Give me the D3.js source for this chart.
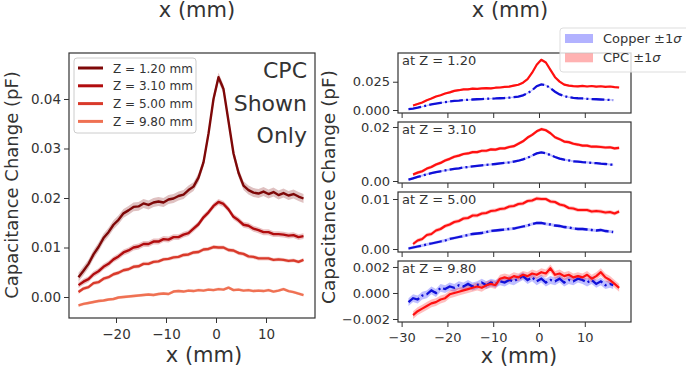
<!DOCTYPE html>
<html>
<head>
<meta charset="utf-8">
<script src="https://cdn.jsdelivr.net/npm/d3@7"></script>
<style>
    body { margin: 0; background: #fff; }
    text { font-family: "DejaVu Sans", sans-serif; fill: #333; }
</style>
</head>
<body>
<div id="chart"></div>
<script>
// positions (mm) of the CPC and copper scans
var xCpc = [-27.5, -26.5, -25.5, -24.5, -23.5, -22.5, -21.5, -20.5, -19.5, -18.5,
    -17.5, -16.5, -15.5, -14.5, -13.5, -12.5, -11.5, -10.5, -9.5, -8.5,
    -7.5, -6.5, -5.5, -4.5, -3.5, -2.5, -1.5, -0.5, 0.5, 1.5,
    2.5, 3.5, 4.5, 5.5, 6.5, 7.5, 8.5, 9.5, 10.5, 11.5,
    12.5, 13.5, 14.5, 15.5, 16.5, 17.5];
var xCopper = [-28.5, -27.5, -26.5, -25.5, -24.5, -23.5, -22.5, -21.5, -20.5, -19.5,
    -18.5, -17.5, -16.5, -15.5, -14.5, -13.5, -12.5, -11.5, -10.5, -9.5,
    -8.5, -7.5, -6.5, -5.5, -4.5, -3.5, -2.5, -1.5, -0.5, 0.5,
    1.5, 2.5, 3.5, 4.5, 5.5, 6.5, 7.5, 8.5, 9.5, 10.5,
    11.5, 12.5, 13.5, 14.5, 15.5, 16.2];

var zLabels = ["1.20", "3.10", "5.00", "9.80"];

// CPC capacitance change (pF)
var cpcZ120 = [0.0040, 0.0053, 0.0067, 0.0086, 0.0101, 0.0119, 0.0131, 0.0146, 0.0156, 0.0169,
    0.0175, 0.0182, 0.0183, 0.0189, 0.0186, 0.0191, 0.0193, 0.0191, 0.0197, 0.0199,
    0.0204, 0.0207, 0.0216, 0.0223, 0.0241, 0.0272, 0.0330, 0.0400, 0.0444, 0.0420,
    0.0355, 0.0290, 0.0251, 0.0225, 0.0216, 0.0211, 0.0209, 0.0213, 0.0208, 0.0212,
    0.0206, 0.0210, 0.0205, 0.0208, 0.0203, 0.0199];
var cpcZ310 = [0.0024, 0.0031, 0.0036, 0.0046, 0.0052, 0.0061, 0.0067, 0.0076, 0.0082, 0.0090,
    0.0094, 0.0100, 0.0102, 0.0107, 0.0107, 0.0112, 0.0112, 0.0117, 0.0116, 0.0121,
    0.0121, 0.0126, 0.0129, 0.0138, 0.0147, 0.0161, 0.0171, 0.0184, 0.0192, 0.0188,
    0.0177, 0.0162, 0.0155, 0.0146, 0.0144, 0.0138, 0.0135, 0.0131, 0.0131, 0.0127,
    0.0127, 0.0126, 0.0124, 0.0125, 0.0121, 0.0123];
var cpcZ500 = [0.0010, 0.0017, 0.0020, 0.0028, 0.0030, 0.0037, 0.0040, 0.0046, 0.0049, 0.0054,
    0.0056, 0.0061, 0.0062, 0.0067, 0.0067, 0.0071, 0.0072, 0.0076, 0.0077, 0.0080,
    0.0081, 0.0085, 0.0086, 0.0090, 0.0091, 0.0096, 0.0097, 0.0101, 0.0100, 0.0100,
    0.0095, 0.0094, 0.0089, 0.0087, 0.0082, 0.0081, 0.0078, 0.0078, 0.0078, 0.0075,
    0.0076, 0.0075, 0.0073, 0.0074, 0.0071, 0.0075];
var cpcZ980 = [-0.0017, -0.0014, -0.0012, -0.0010, -0.0008, -0.0007, -0.0005, -0.0004, -0.0001, 0.0000,
    0.0001, 0.0002, 0.0003, 0.0004, 0.0005, 0.0004, 0.0006, 0.0007, 0.0006, 0.0011,
    0.0012, 0.0011, 0.0013, 0.0012, 0.0014, 0.0013, 0.0015, 0.0014, 0.0016, 0.0015,
    0.0019, 0.0014, 0.0015, 0.0013, 0.0014, 0.0012, 0.0013, 0.0012, 0.0014, 0.0011,
    0.0013, 0.0016, 0.0012, 0.0010, 0.0007, 0.0004];

// copper capacitance change (pF)
var cuZ120 = [0.0008, 0.0012, 0.0020, 0.0030, 0.0040, 0.0049, 0.0056, 0.0063, 0.0069, 0.0075,
    0.0080, 0.0083, 0.0087, 0.0090, 0.0093, 0.0095, 0.0097, 0.0099, 0.0101, 0.0102,
    0.0104, 0.0106, 0.0109, 0.0113, 0.0119, 0.0130, 0.0148, 0.0175, 0.0210, 0.0226,
    0.0220, 0.0192, 0.0162, 0.0138, 0.0123, 0.0113, 0.0108, 0.0104, 0.0102, 0.0099,
    0.0097, 0.0095, 0.0093, 0.0091, 0.0089, 0.0088];
var cuZ310 = [0.0005, 0.0010, 0.0015, 0.0020, 0.0025, 0.0029, 0.0033, 0.0036, 0.0039, 0.0042,
    0.0045, 0.0047, 0.0050, 0.0052, 0.0054, 0.0056, 0.0058, 0.0060, 0.0061, 0.0063,
    0.0065, 0.0067, 0.0069, 0.0072, 0.0075, 0.0080, 0.0086, 0.0094, 0.0102, 0.0106,
    0.0103, 0.0096, 0.0089, 0.0083, 0.0079, 0.0076, 0.0073, 0.0072, 0.0070, 0.0069,
    0.0067, 0.0066, 0.0064, 0.0063, 0.0061, 0.0060];
var cuZ500 = [0.0001, 0.0003, 0.0005, 0.0007, 0.0009, 0.0011, 0.0013, 0.0015, 0.0017, 0.0020,
    0.0022, 0.0024, 0.0026, 0.0028, 0.0030, 0.0031, 0.0032, 0.0034, 0.0036, 0.0037,
    0.0038, 0.0039, 0.0040, 0.0041, 0.0043, 0.0045, 0.0047, 0.0050, 0.0052, 0.0052,
    0.0050, 0.0049, 0.0047, 0.0046, 0.0044, 0.0043, 0.0041, 0.0040, 0.0040, 0.0039,
    0.0038, 0.0037, 0.0038, 0.0036, 0.0035, 0.0034];
var cuZ980 = [-0.0007, -0.0004, -0.0005, -0.0002, -0.0001, 0.0002, 0.0000, 0.0004, 0.0003, 0.0005,
    0.0004, 0.0006, 0.0005, 0.0007, 0.0005, 0.0006, 0.0008, 0.0006, 0.0008, 0.0007,
    0.0009, 0.0008, 0.0010, 0.0009, 0.0011, 0.0013, 0.0010, 0.0012, 0.0009, 0.0011,
    0.0008, 0.0010, 0.0009, 0.0011, 0.0008, 0.0010, 0.0009, 0.0011, 0.0010, 0.0008,
    0.0010, 0.0007, 0.0009, 0.0006, 0.0007, 0.0006];

// 1 sigma spread of each scan
var cpcSigma = [0.0009, 0.0006, 0.0004, 0.0003];
var cuSigma = [0.0006, 0.0004, 0.0003, 0.0003];

var cpcSeries = [cpcZ120, cpcZ310, cpcZ500, cpcZ980];
var cuSeries = [cuZ120, cuZ310, cuZ500, cuZ980];

var leftTicks = [0.00, 0.01, 0.02, 0.03, 0.04];
var rightTicks = [[0.000, 0.025], [0.00, 0.02], [0.00, 0.01], [-0.002, 0.000, 0.002]];
var rightFormats = [".3f", ".2f", ".2f", ".3f"];
var xTicks = [-20, -10, 0, 10];
var xTicksRight = [-30, -20, -10, 0, 10];

var shades = ["#7e0808", "#b10c0e", "#d93a2b", "#ef7153"];

var svg = d3.select("#chart").append("svg")
    .attr("width", 686)
    .attr("height", 371);

// cropped label of the figure above
svg.append("text").attr("x", 197).attr("y", 16.5).attr("text-anchor", "middle")
    .style("font-size", "21px").text("x (mm)");
svg.append("text").attr("x", 510).attr("y", 16.5).attr("text-anchor", "middle")
    .style("font-size", "21px").text("x (mm)");

function pts(xs, ys) {
    return xs.map(function(d, i) { return { x: d, y: ys[i] }; });
}

/* ---------- left panel: CPC only ---------- */
var L = { left: 69, right: 315, top: 53, bottom: 318 };

var xL = d3.scaleLinear().domain([-29.4, 19.8]).range([L.left, L.right]);
var yL = d3.scaleLinear().domain([-0.00424, 0.04929]).range([L.bottom, L.top]);

var gL = svg.append("g");

cpcSeries.forEach(function(s, i) {
    var data = pts(xCpc, s);
    var area = d3.area()
        .x(function(d) { return xL(d.x); })
        .y0(function(d) { return yL(d.y - cpcSigma[i]); })
        .y1(function(d) { return yL(d.y + cpcSigma[i]); });
    gL.append("path").datum(data)
        .attr("d", area)
        .attr("fill", shades[i])
        .attr("opacity", 0.25);
});
cpcSeries.forEach(function(s, i) {
    var line = d3.line()
        .x(function(d) { return xL(d.x); })
        .y(function(d) { return yL(d.y); });
    gL.append("path").datum(pts(xCpc, s))
        .attr("d", line)
        .attr("fill", "none")
        .attr("stroke", shades[i])
        .attr("stroke-width", 2.4)
        .attr("stroke-linejoin", "round");
});

gL.append("rect")
    .attr("x", L.left).attr("y", L.top)
    .attr("width", L.right - L.left).attr("height", L.bottom - L.top)
    .attr("fill", "none").attr("stroke", "#333").attr("stroke-width", 1.2);

var axL = gL.append("g").attr("transform", "translate(" + L.left + ",0)")
    .call(d3.axisLeft(yL).tickValues(leftTicks).tickFormat(d3.format(".2f")).tickSize(5).tickPadding(3));
var axB = gL.append("g").attr("transform", "translate(0," + L.bottom + ")")
    .call(d3.axisBottom(xL).tickValues(xTicks).tickFormat(d3.format("d")).tickSize(5).tickPadding(6));
[axL, axB].forEach(function(a) {
    a.select(".domain").remove();
    a.selectAll("line").attr("stroke", "#333");
    a.selectAll("text").style("font-size", "13.5px").attr("fill", "#333");
});

gL.append("text").attr("x", 204).attr("y", 362).attr("text-anchor", "middle")
    .style("font-size", "21px").text("x (mm)");
gL.append("text")
    .attr("transform", "translate(18,185) rotate(-90)")
    .attr("text-anchor", "middle")
    .style("font-size", "18px")
    .text("Capacitance Change (pF)");

// legend
var leg = gL.append("g");
leg.append("rect")
    .attr("x", 74).attr("y", 58).attr("width", 122).attr("height", 75)
    .attr("rx", 3).attr("fill", "#fff").attr("fill-opacity", 0.8)
    .attr("stroke", "#ccc");
zLabels.forEach(function(z, i) {
    var yy = 68 + i * 17.8;
    leg.append("line")
        .attr("x1", 78).attr("x2", 103).attr("y1", yy).attr("y2", yy)
        .attr("stroke", shades[i]).attr("stroke-width", 3);
    leg.append("text").attr("x", 113).attr("y", yy + 4.5)
        .style("font-size", "12px").text("Z = " + z + " mm");
});

["CPC", "Shown", "Only"].forEach(function(t, i) {
    gL.append("text").attr("x", 307).attr("y", 78 + i * 32.5)
        .attr("text-anchor", "end")
        .style("font-size", "22px").text(t);
});

/* ---------- right panels: copper vs CPC ---------- */
var R = { left: 398, right: 631 };
var panelTops = [53, 122, 192, 261];
var panelBottoms = [113, 183, 252, 322];
var panelDomains = [[-0.00265, 0.0504], [-0.00074, 0.02185], [-0.0006, 0.0114], [-0.00223, 0.00246]];

var xR = d3.scaleLinear().domain([-30.79, 20.09]).range([R.left, R.right]);

panelTops.forEach(function(top, p) {
    var bottom = panelBottoms[p];
    var yR = d3.scaleLinear().domain(panelDomains[p]).range([bottom, top]);
    var g = svg.append("g");

    var line = d3.line()
        .x(function(d) { return xR(d.x); })
        .y(function(d) { return yR(d.y); });

    function band(sig) {
        return d3.area()
            .x(function(d) { return xR(d.x); })
            .y0(function(d) { return yR(d.y - sig); })
            .y1(function(d) { return yR(d.y + sig); });
    }

    var cu = pts(xCopper, cuSeries[p]);
    var cpc = pts(xCpc, cpcSeries[p]);

    g.append("path").datum(cu).attr("d", band(cuSigma[p]))
        .attr("fill", "blue").attr("opacity", 0.25);
    g.append("path").datum(cpc).attr("d", band(cpcSigma[p]))
        .attr("fill", "red").attr("opacity", 0.25);
    g.append("path").datum(cu).attr("d", line)
        .attr("fill", "none").attr("stroke", "#1010d8")
        .attr("stroke-width", 2.3).attr("stroke-dasharray", "12.8,3.2,2,3.2");
    g.append("path").datum(cpc).attr("d", line)
        .attr("fill", "none").attr("stroke", "#ff1010")
        .attr("stroke-width", 2.2).attr("stroke-linejoin", "round");

    g.append("rect")
        .attr("x", R.left).attr("y", top)
        .attr("width", R.right - R.left).attr("height", bottom - top)
        .attr("fill", "none").attr("stroke", "#333").attr("stroke-width", 1.2);

    var ay = g.append("g").attr("transform", "translate(" + R.left + ",0)")
        .call(d3.axisLeft(yR).tickValues(rightTicks[p]).tickFormat(d3.format(rightFormats[p])).tickSize(5).tickPadding(3));
    var ax = g.append("g").attr("transform", "translate(0," + bottom + ")")
        .call(d3.axisBottom(xR).tickValues(xTicksRight).tickFormat(p == 3 ? d3.format("d") : "").tickSize(5).tickPadding(6));
    [ay, ax].forEach(function(a) {
        a.select(".domain").remove();
        a.selectAll("line").attr("stroke", "#333");
        a.selectAll("text").style("font-size", "13px").attr("fill", "#333");
    });

    g.append("text").attr("x", 402).attr("y", top + 12)
        .style("font-size", "13px").text("at Z = " + zLabels[p]);
});

svg.append("text").attr("x", 519).attr("y", 363).attr("text-anchor", "middle")
    .style("font-size", "21px").text("x (mm)");
svg.append("text")
    .attr("transform", "translate(335,187) rotate(-90)")
    .attr("text-anchor", "middle")
    .style("font-size", "18.5px")
    .text("Capacitance Change (pF)");

// legend of the right column
var leg2 = svg.append("g");
leg2.append("rect")
    .attr("x", 560).attr("y", 28).attr("width", 130).attr("height", 44)
    .attr("rx", 3).attr("fill", "#fff").attr("fill-opacity", 0.8)
    .attr("stroke", "#ddd");
[["Copper", "blue"], ["CPC", "red"]].forEach(function(e, i) {
    var yy = 34 + i * 19.3;
    leg2.append("rect").attr("x", 565).attr("y", yy).attr("width", 28).attr("height", 9)
        .attr("fill", e[1]).attr("opacity", 0.3);
    var t = leg2.append("text").attr("x", 603).attr("y", yy + 9)
        .style("font-size", "13px");
    t.append("tspan").text(e[0] + " \u00b11");
    t.append("tspan").style("font-style", "italic").text("\u03c3");
});
</script>
</body>
</html>
